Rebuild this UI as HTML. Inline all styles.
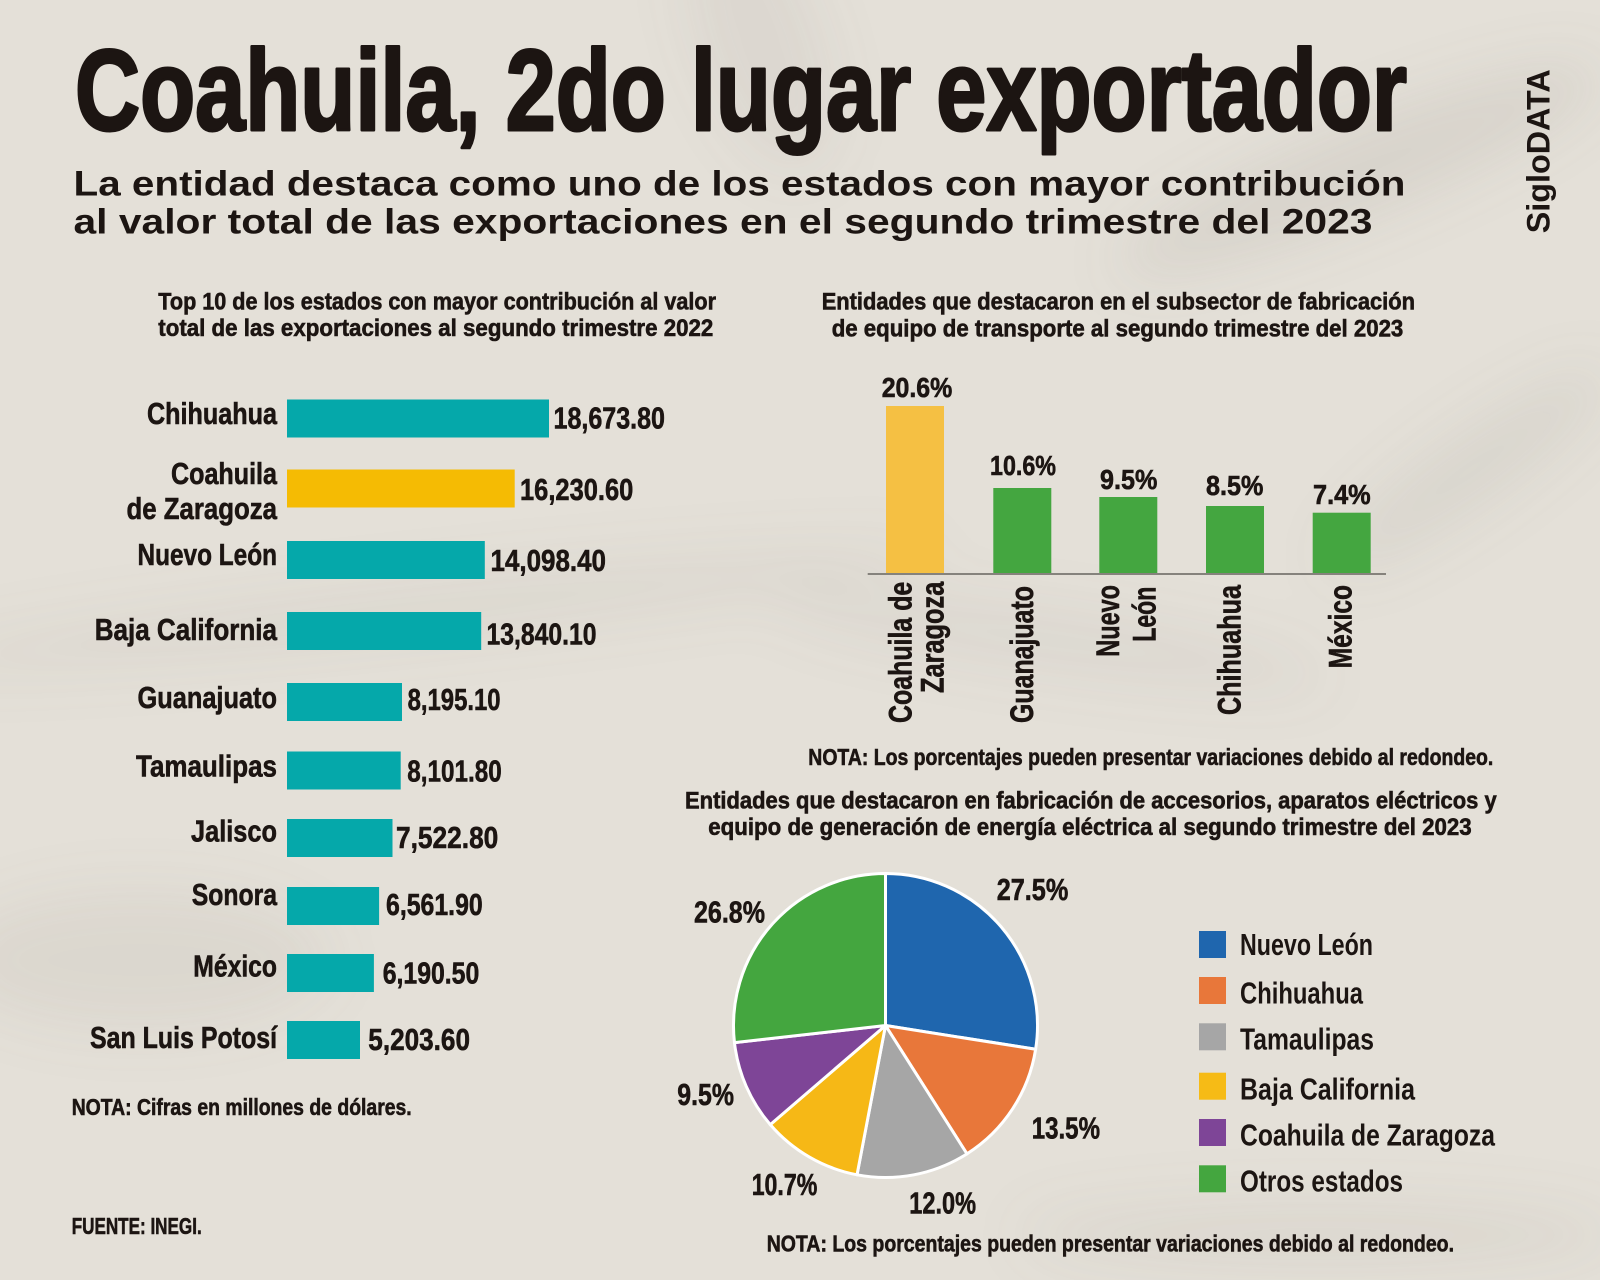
<!DOCTYPE html>
<html>
<head>
<meta charset="utf-8">
<style>
html,body{margin:0;padding:0;background:#e4e0d8;}
svg{display:block;}
.t{font-family:"Liberation Sans","DejaVu Sans",sans-serif;font-weight:700;fill:#1c1512;}
.k{stroke:#1c1512;stroke-width:0.6px;}
</style>
</head>
<body>
<svg width="1600" height="1280" viewBox="0 0 1600 1280" xmlns="http://www.w3.org/2000/svg">
<defs>
<filter id="bl" x="-50%" y="-50%" width="200%" height="200%"><feGaussianBlur stdDeviation="28"/></filter>
</defs>
<rect x="0" y="0" width="1600" height="1280" fill="#e4e0d8"/>
<g filter="url(#bl)" fill="#8f8a80">
<ellipse cx="1360" cy="170" rx="260" ry="45" transform="rotate(-22 1360 170)" opacity="0.14"/>
<ellipse cx="1470" cy="470" rx="170" ry="35" transform="rotate(-35 1470 470)" opacity="0.12"/>
<ellipse cx="420" cy="610" rx="520" ry="28" transform="rotate(-6 420 610)" opacity="0.10"/>
<ellipse cx="140" cy="960" rx="190" ry="70" opacity="0.10"/>
<ellipse cx="1320" cy="1235" rx="300" ry="35" opacity="0.10"/>
<ellipse cx="1050" cy="640" rx="280" ry="30" transform="rotate(8 1050 640)" opacity="0.09"/>
<ellipse cx="760" cy="40" rx="60" ry="140" transform="rotate(-20 760 40)" opacity="0.09"/>
</g>

<!-- Title -->
<text class="t" x="75" y="130" font-size="115" textLength="1332" lengthAdjust="spacingAndGlyphs" stroke="#1c1512" stroke-width="3" stroke-linejoin="round">Coahuila, 2do lugar exportador</text>
<text class="t" x="73.5" y="195.7" font-size="35" textLength="1332" lengthAdjust="spacingAndGlyphs">La entidad destaca como uno de los estados con mayor contribución</text>
<text class="t" x="73.5" y="233.3" font-size="35" textLength="1299" lengthAdjust="spacingAndGlyphs">al valor total de las exportaciones en el segundo trimestre del 2023</text>
<text class="t" transform="translate(1549.5,233.3) rotate(-90)" x="0" y="0" font-size="32" textLength="164" lengthAdjust="spacingAndGlyphs">SigloDATA</text>

<!-- Left chart title -->
<text class="t k" x="158.3" y="309.3" font-size="24" textLength="557.7" lengthAdjust="spacingAndGlyphs">Top 10 de los estados con mayor contribución al valor</text>
<text class="t k" x="158.3" y="336" font-size="24" textLength="555" lengthAdjust="spacingAndGlyphs">total de las exportaciones al segundo trimestre 2022</text>

<!-- Left bars -->
<g>
<rect x="287" y="399.5" width="262" height="38" fill="#05a8aa"/>
<rect x="287" y="469.5" width="227.7" height="38" fill="#f5bb03"/>
<rect x="287" y="541" width="197.8" height="38" fill="#05a8aa"/>
<rect x="287" y="612" width="194.2" height="38" fill="#05a8aa"/>
<rect x="287" y="683" width="115" height="38" fill="#05a8aa"/>
<rect x="287" y="751.5" width="113.7" height="38" fill="#05a8aa"/>
<rect x="287" y="819" width="105.5" height="38" fill="#05a8aa"/>
<rect x="287" y="887" width="92.1" height="38" fill="#05a8aa"/>
<rect x="287" y="954" width="86.9" height="38" fill="#05a8aa"/>
<rect x="287" y="1021" width="73" height="38" fill="#05a8aa"/>
</g>

<!-- Left labels -->
<g font-size="31">
<text class="t k" x="147" y="424" textLength="130" lengthAdjust="spacingAndGlyphs">Chihuahua</text>
<text class="t k" x="171" y="484" textLength="106" lengthAdjust="spacingAndGlyphs">Coahuila</text>
<text class="t k" x="126.5" y="519" textLength="150.5" lengthAdjust="spacingAndGlyphs">de Zaragoza</text>
<text class="t k" x="137.5" y="565" textLength="139.5" lengthAdjust="spacingAndGlyphs">Nuevo León</text>
<text class="t k" x="94.7" y="640" textLength="182.3" lengthAdjust="spacingAndGlyphs">Baja California</text>
<text class="t k" x="137.5" y="708" textLength="139.5" lengthAdjust="spacingAndGlyphs">Guanajuato</text>
<text class="t k" x="136" y="776.7" textLength="141" lengthAdjust="spacingAndGlyphs">Tamaulipas</text>
<text class="t k" x="191" y="841.7" textLength="86" lengthAdjust="spacingAndGlyphs">Jalisco</text>
<text class="t k" x="191.7" y="905" textLength="85.3" lengthAdjust="spacingAndGlyphs">Sonora</text>
<text class="t k" x="193.3" y="976.7" textLength="83.7" lengthAdjust="spacingAndGlyphs">México</text>
<text class="t k" x="90" y="1048" textLength="187" lengthAdjust="spacingAndGlyphs">San Luis Potosí</text>
</g>

<!-- Left values -->
<g font-size="31">
<text class="t k" x="553.5" y="428.5" textLength="111.5" lengthAdjust="spacingAndGlyphs">18,673.80</text>
<text class="t k" x="520" y="500" textLength="113.3" lengthAdjust="spacingAndGlyphs">16,230.60</text>
<text class="t k" x="490.5" y="571" textLength="115.5" lengthAdjust="spacingAndGlyphs">14,098.40</text>
<text class="t k" x="486.5" y="644.3" textLength="110" lengthAdjust="spacingAndGlyphs">13,840.10</text>
<text class="t k" x="407.6" y="710" textLength="93" lengthAdjust="spacingAndGlyphs">8,195.10</text>
<text class="t k" x="407.3" y="781.7" textLength="94.4" lengthAdjust="spacingAndGlyphs">8,101.80</text>
<text class="t k" x="396" y="848" textLength="102.3" lengthAdjust="spacingAndGlyphs">7,522.80</text>
<text class="t k" x="386" y="915" textLength="96.7" lengthAdjust="spacingAndGlyphs">6,561.90</text>
<text class="t k" x="382.7" y="983.3" textLength="96.6" lengthAdjust="spacingAndGlyphs">6,190.50</text>
<text class="t k" x="368.3" y="1050" textLength="101.7" lengthAdjust="spacingAndGlyphs">5,203.60</text>
</g>

<text class="t k" x="71.7" y="1115" font-size="23" textLength="340" lengthAdjust="spacingAndGlyphs">NOTA: Cifras en millones de dólares.</text>
<text class="t k" x="71.7" y="1234" font-size="23" textLength="130" lengthAdjust="spacingAndGlyphs">FUENTE: INEGI.</text>

<!-- Right bar chart -->
<text class="t k" x="821.7" y="309.3" font-size="24" textLength="593.3" lengthAdjust="spacingAndGlyphs">Entidades que destacaron en el subsector de fabricación</text>
<text class="t k" x="831.7" y="336.5" font-size="24" textLength="571.6" lengthAdjust="spacingAndGlyphs">de equipo de transporte al segundo trimestre del 2023</text>

<rect x="886" y="406" width="58" height="168" fill="#f5c043"/>
<rect x="993.3" y="488" width="58" height="86" fill="#44a640"/>
<rect x="1099.3" y="497" width="58" height="77" fill="#44a640"/>
<rect x="1206" y="506" width="58" height="68" fill="#44a640"/>
<rect x="1312.7" y="512.7" width="58" height="61.3" fill="#44a640"/>
<line x1="867.7" y1="574" x2="1386" y2="574" stroke="#85827c" stroke-width="2"/>

<g font-size="28">
<text class="t k" x="881.7" y="397" textLength="70.6" lengthAdjust="spacingAndGlyphs">20.6%</text>
<text class="t k" x="990" y="475" textLength="66" lengthAdjust="spacingAndGlyphs">10.6%</text>
<text class="t k" x="1100" y="489" textLength="57.3" lengthAdjust="spacingAndGlyphs">9.5%</text>
<text class="t k" x="1206" y="495" textLength="57.3" lengthAdjust="spacingAndGlyphs">8.5%</text>
<text class="t k" x="1313" y="504" textLength="57.7" lengthAdjust="spacingAndGlyphs">7.4%</text>
</g>

<g font-size="32">
<text class="t k" transform="translate(911.5,723) rotate(-90)" x="0" y="0" textLength="141.3" lengthAdjust="spacingAndGlyphs">Coahuila de</text>
<text class="t k" transform="translate(943.5,693) rotate(-90)" x="0" y="0" textLength="111.3" lengthAdjust="spacingAndGlyphs">Zaragoza</text>
<text class="t k" transform="translate(1033,723) rotate(-90)" x="0" y="0" textLength="137" lengthAdjust="spacingAndGlyphs">Guanajuato</text>
<text class="t k" transform="translate(1119,656.7) rotate(-90)" x="0" y="0" textLength="71.7" lengthAdjust="spacingAndGlyphs">Nuevo</text>
<text class="t k" transform="translate(1155.5,641.7) rotate(-90)" x="0" y="0" textLength="55" lengthAdjust="spacingAndGlyphs">León</text>
<text class="t k" transform="translate(1240.5,715) rotate(-90)" x="0" y="0" textLength="130" lengthAdjust="spacingAndGlyphs">Chihuahua</text>
<text class="t k" transform="translate(1351.5,668.3) rotate(-90)" x="0" y="0" textLength="83.3" lengthAdjust="spacingAndGlyphs">México</text>
</g>

<text class="t k" x="808.3" y="765" font-size="23" textLength="685" lengthAdjust="spacingAndGlyphs">NOTA: Los porcentajes pueden presentar variaciones debido al redondeo.</text>

<!-- Pie chart -->
<text class="t k" x="685" y="808.3" font-size="24" textLength="811.7" lengthAdjust="spacingAndGlyphs">Entidades que destacaron en fabricación de accesorios, aparatos eléctricos y</text>
<text class="t k" x="708.3" y="835" font-size="24" textLength="763.4" lengthAdjust="spacingAndGlyphs">equipo de generación de energía eléctrica al segundo trimestre del 2023</text>

<g stroke="#ffffff" stroke-width="3" stroke-linejoin="round">
<path d="M885.5,1025.5 L885.5,873.5 A152,152 0 0 1 1035.63,1049.28 Z" fill="#1f66ae"/>
<path d="M885.5,1025.5 L1035.63,1049.28 A152,152 0 0 1 966.95,1153.84 Z" fill="#e8773a"/>
<path d="M885.5,1025.5 L966.95,1153.84 A152,152 0 0 1 857.02,1174.81 Z" fill="#a6a6a6"/>
<path d="M885.5,1025.5 L857.02,1174.81 A152,152 0 0 1 770.27,1124.63 Z" fill="#f6b816"/>
<path d="M885.5,1025.5 L770.27,1124.63 A152,152 0 0 1 734.47,1042.65 Z" fill="#7e4597"/>
<path d="M885.5,1025.5 L734.47,1042.65 A152,152 0 0 1 885.5,873.5 Z" fill="#44a63f"/>
</g>

<g font-size="31">
<text class="t k" x="996.7" y="900" textLength="71.6" lengthAdjust="spacingAndGlyphs">27.5%</text>
<text class="t k" x="694" y="922.7" textLength="71" lengthAdjust="spacingAndGlyphs">26.8%</text>
<text class="t k" x="677.3" y="1105" textLength="56.7" lengthAdjust="spacingAndGlyphs">9.5%</text>
<text class="t k" x="1031.7" y="1138.3" textLength="68.3" lengthAdjust="spacingAndGlyphs">13.5%</text>
<text class="t k" x="751.7" y="1195" textLength="65.6" lengthAdjust="spacingAndGlyphs">10.7%</text>
<text class="t k" x="909.3" y="1213.3" textLength="66.7" lengthAdjust="spacingAndGlyphs">12.0%</text>
</g>

<!-- Legend -->
<rect x="1199" y="931" width="27" height="27" fill="#1f66ae"/>
<rect x="1199" y="977" width="27" height="27" fill="#e8773a"/>
<rect x="1199" y="1023.3" width="27" height="27" fill="#a6a6a6"/>
<rect x="1199" y="1072.7" width="27" height="27" fill="#f6bb16"/>
<rect x="1199" y="1119" width="27" height="27" fill="#7e4597"/>
<rect x="1199" y="1165.3" width="27" height="27" fill="#44a63f"/>
<g font-size="31">
<text class="t" x="1240" y="955" textLength="133" lengthAdjust="spacingAndGlyphs">Nuevo León</text>
<text class="t" x="1240" y="1003.3" textLength="123" lengthAdjust="spacingAndGlyphs">Chihuahua</text>
<text class="t" x="1240" y="1049.3" textLength="134" lengthAdjust="spacingAndGlyphs">Tamaulipas</text>
<text class="t" x="1240" y="1099.3" textLength="175" lengthAdjust="spacingAndGlyphs">Baja California</text>
<text class="t" x="1240" y="1145.7" textLength="255" lengthAdjust="spacingAndGlyphs">Coahuila de Zaragoza</text>
<text class="t" x="1240" y="1191.7" textLength="163" lengthAdjust="spacingAndGlyphs">Otros estados</text>
</g>

<text class="t k" x="766.7" y="1251.7" font-size="23" textLength="687.3" lengthAdjust="spacingAndGlyphs">NOTA: Los porcentajes pueden presentar variaciones debido al redondeo.</text>
</svg>
</body>
</html>
